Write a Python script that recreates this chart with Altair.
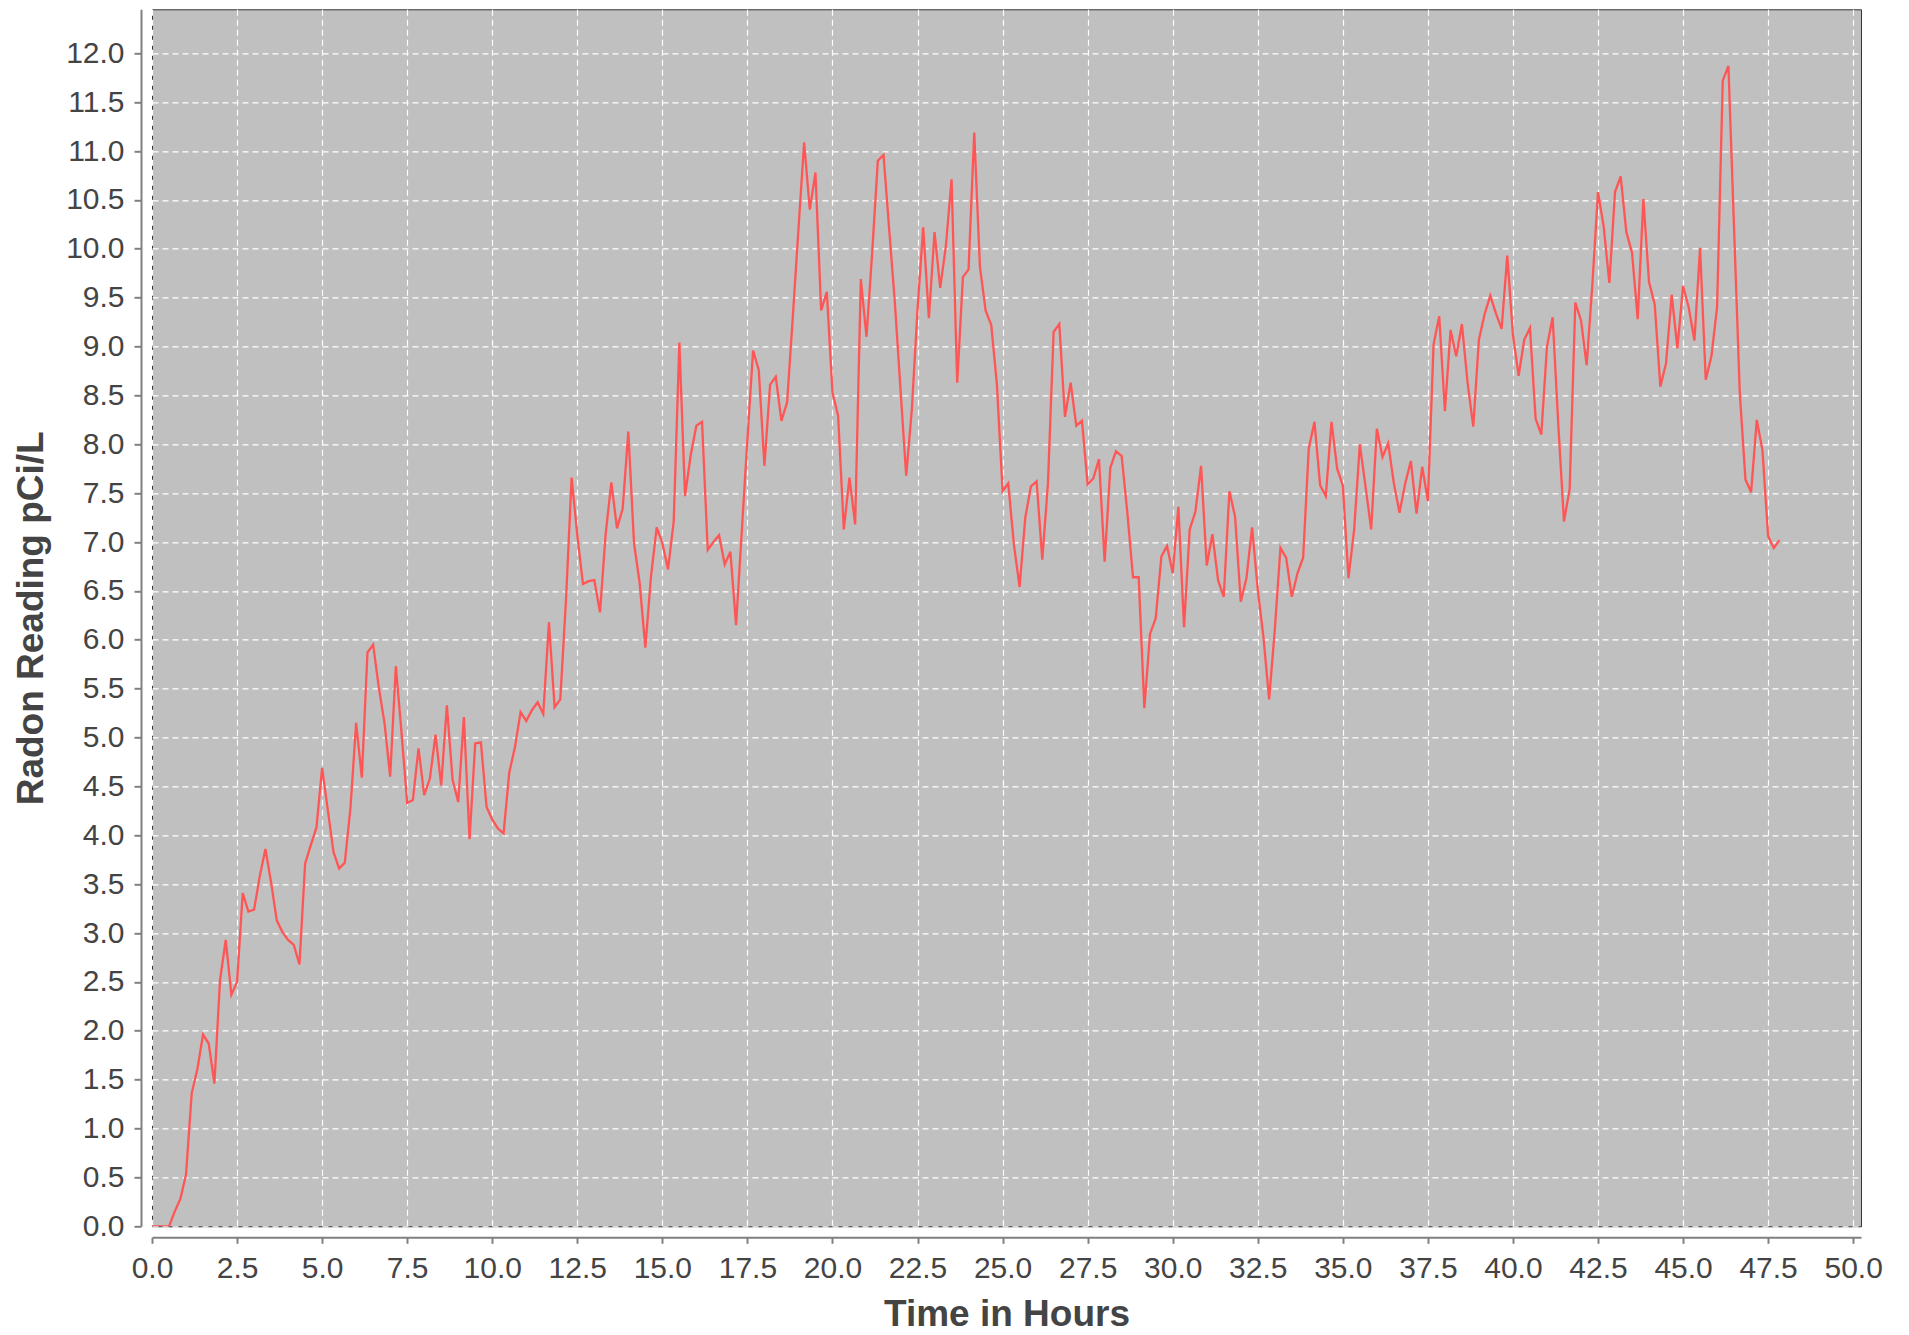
import altair as alt
import pandas as pd

# Radon readings every 10 minutes
radon = [
    0, 0, 0, 0, 0.15, 0.28, 0.53, 1.36, 1.61, 1.96, 1.87, 1.46,
    2.52, 2.93, 2.37, 2.50, 3.41, 3.22, 3.24, 3.58, 3.86, 3.52, 3.13, 3.01,
    2.93, 2.88, 2.68, 3.71, 3.90, 4.08, 4.69, 4.26, 3.83, 3.66, 3.72, 4.28,
    5.15, 4.59, 5.87, 5.95, 5.51, 5.15, 4.60, 5.73, 5.05, 4.33, 4.36, 4.89,
    4.41, 4.58, 5.03, 4.51, 5.33, 4.57, 4.34, 5.21, 3.96, 4.94, 4.95, 4.29,
    4.16, 4.07, 4.02, 4.64, 4.90, 5.26, 5.17, 5.28, 5.36, 5.24, 6.18, 5.31,
    5.39, 6.40, 7.66, 7.07, 6.57, 6.60, 6.61, 6.28, 7.08, 7.61, 7.14, 7.34,
    8.13, 6.99, 6.58, 5.92, 6.65, 7.15, 6.99, 6.72, 7.21, 9.04, 7.47, 7.89,
    8.19, 8.23, 6.92, 7.00, 7.07, 6.77, 6.90, 6.15, 7.10, 8.05, 8.96, 8.76,
    7.78, 8.61, 8.69, 8.24, 8.43, 9.30, 10.20, 11.09, 10.40, 10.78, 9.37, 9.56,
    8.53, 8.29, 7.13, 7.66, 7.18, 9.69, 9.10, 9.96, 10.90, 10.96, 10.20, 9.45,
    8.56, 7.68, 8.36, 9.38, 10.22, 9.29, 10.17, 9.60, 10.03, 10.71, 8.63, 9.71,
    9.79, 11.19, 9.82, 9.37, 9.22, 8.61, 7.52, 7.60, 6.97, 6.54, 7.25, 7.57,
    7.62, 6.82, 7.60, 9.15, 9.23, 8.28, 8.63, 8.19, 8.24, 7.59, 7.65, 7.85,
    6.80, 7.76, 7.93, 7.88, 7.30, 6.64, 6.64, 5.30, 6.06, 6.22, 6.85, 6.96,
    6.68, 7.36, 6.13, 7.13, 7.31, 7.78, 6.76, 7.08, 6.61, 6.44, 7.52, 7.26,
    6.39, 6.63, 7.15, 6.51, 6.03, 5.39, 6.10, 6.94, 6.84, 6.44, 6.68, 6.84,
    7.96, 8.23, 7.58, 7.47, 8.23, 7.75, 7.58, 6.63, 7.13, 8.00, 7.57, 7.13,
    8.16, 7.87, 8.01, 7.60, 7.30, 7.60, 7.83, 7.29, 7.77, 7.42, 9.02, 9.31,
    8.34, 9.17, 8.90, 9.23, 8.63, 8.18, 9.07, 9.33, 9.52, 9.34, 9.18, 9.93,
    9.12, 8.70, 9.07, 9.19, 8.26, 8.10, 9.00, 9.30, 8.20, 7.21, 7.54, 9.45,
    9.27, 8.81, 9.63, 10.58, 10.23, 9.65, 10.58, 10.74, 10.17, 9.96, 9.28, 10.51,
    9.66, 9.43, 8.59, 8.83, 9.53, 8.98, 9.62, 9.40, 9.06, 10.01, 8.66, 8.90,
    9.40, 11.72, 11.87, 10.20, 8.53, 7.64, 7.51, 8.25, 7.94, 7.06, 6.94, 7.02,
]
# one reading every 10 minutes, expressed in hours
hours = [i / 6 for i in range(len(radon))]

x_ticks = [i * 2.5 for i in range(21)]
y_ticks = [i * 0.5 for i in range(25)]

df = pd.DataFrame({"hours": hours, "radon": radon})

chart = (
    alt.Chart(df)
    .mark_line(color="#FF5555", strokeWidth=2.3, clip=True)
    .encode(
        x=alt.X(
            "hours:Q",
            scale=alt.Scale(domain=[0, 50.23], nice=False, zero=False),
            axis=alt.Axis(
                values=x_ticks, format=".1f", title="Time in Hours",
                offset=11, tickSize=6, labelPadding=10, titlePadding=13,
                labelFlush=False, labelOverlap=False,
            ),
        ),
        y=alt.Y(
            "radon:Q",
            scale=alt.Scale(domain=[0, 12.45], nice=False),
            axis=alt.Axis(
                values=y_ticks, format=".1f", title="Radon Reading pCi/L",
                offset=11, tickSize=7, labelPadding=10, titlePadding=15,
                labelFlush=False, labelOverlap=False,
            ),
        ),
    )
    .properties(
        width=1709,
        height=1217,
        autosize=alt.AutoSizeParams(type="none"),
        padding={"left": 144, "top": 1.3, "right": 40, "bottom": 106},
    )
    .configure_view(fill="#C0C0C0", stroke="#333333", strokeWidth=1)
    .configure_axis(
        grid=True,
        gridColor="white",
        gridDash=[6, 4],
        gridWidth=1.2,
        domainColor="#808080",
        domainWidth=2,
        tickColor="#808080",
        tickWidth=2,
        labelFont="Liberation Sans",
        labelFontSize=30,
        labelColor="#444444",
        titleFont="Liberation Sans",
        titleFontSize=37,
        titleFontWeight="bold",
        titleColor="#444444",
    )
)

chart.save("out.html", embed_options={"renderer": "svg", "actions": False})
